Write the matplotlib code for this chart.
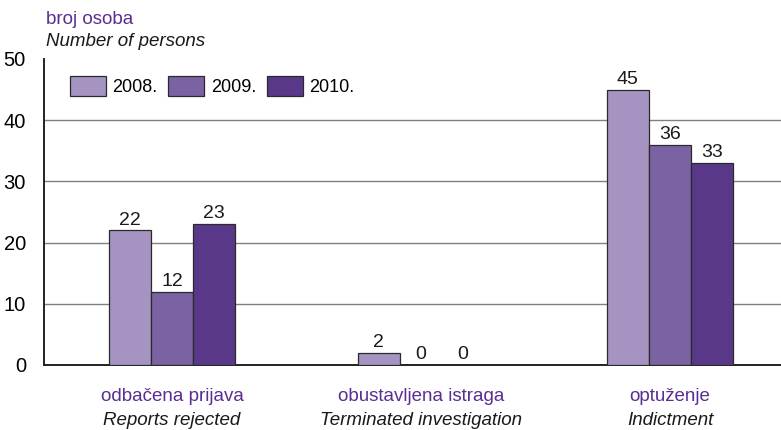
import numpy as np
import matplotlib
matplotlib.use("Agg")
import matplotlib.pyplot as plt

plt.rcParams['font.family'] = ['Liberation Sans Narrow', 'Liberation Sans', 'DejaVu Sans']

categories_hr = ["odbačena prijava", "obustavljena istraga", "optuženje"]
categories_en = ["Reports rejected", "Terminated investigation", "Indictment"]
years = ["2008.", "2009.", "2010."]
v2008 = [22, 2, 45]
v2009 = [12, 0, 36]
v2010 = [23, 0, 33]

colors = ["#a594c2", "#7b63a3", "#5a3889"]
purple_text = "#5b2d91"

fig = plt.figure(figsize=(7.81, 4.30), dpi=100)
ax = fig.add_axes([44 / 781, 65 / 430, 737 / 781, 306 / 430])

x = np.arange(len(categories_hr))
w = 0.169
series = [v2008, v2009, v2010]
for i, (vals, c, yr) in enumerate(zip(series, colors, years)):
    bars = ax.bar(x + (i - 1) * w, vals, w, color=c, edgecolor="#2a2a2a",
                  linewidth=0.9, label=yr, zorder=3)
    for b, v in zip(bars, vals):
        ax.text(b.get_x() + b.get_width() / 2, v + 0.3, str(v), ha="center",
                va="bottom", fontsize=14, color="#1a1a1a", zorder=4)

ax.set_xlim(-0.514, 2.446)
ax.set_ylim(0, 50)
ax.set_yticks([0, 10, 20, 30, 40, 50])
ax.tick_params(axis="y", length=0, labelsize=14.5, pad=13)
ax.set_xticks([])
for yv in [10, 20, 30, 40]:
    ax.axhline(yv, color="#808080", linewidth=1.0, zorder=1)
for s in ["top", "right"]:
    ax.spines[s].set_visible(False)
ax.spines["left"].set_color("#222222")
ax.spines["left"].set_linewidth(1.4)
ax.spines["bottom"].set_color("#222222")
ax.spines["bottom"].set_linewidth(1.4)

for xi, hr, en in zip(x, categories_hr, categories_en):
    ax.text(xi, -5.2, hr, ha="center", va="center", fontsize=13.5, color=purple_text,
            transform=ax.transData, clip_on=False)
    ax.text(xi, -9.0, en, ha="center", va="center", fontsize=13.5, style="italic",
            color="#1a1a1a", transform=ax.transData, clip_on=False)

fig.text(46 / 781, 1 - 19 / 430, "broj osoba", fontsize=13.5, color=purple_text,
         va="center", ha="left")
fig.text(46 / 781, 1 - 42 / 430, "Number of persons", fontsize=13.5, style="italic",
         color="#1a1a1a", va="center", ha="left")

leg = ax.legend(loc="upper left", bbox_to_anchor=(0.013, 0.998), ncol=3, frameon=False,
                fontsize=13, handlelength=2.0, handleheight=1.35, columnspacing=0.6,
                handletextpad=0.35)

fig.savefig("out.png", dpi=100)
